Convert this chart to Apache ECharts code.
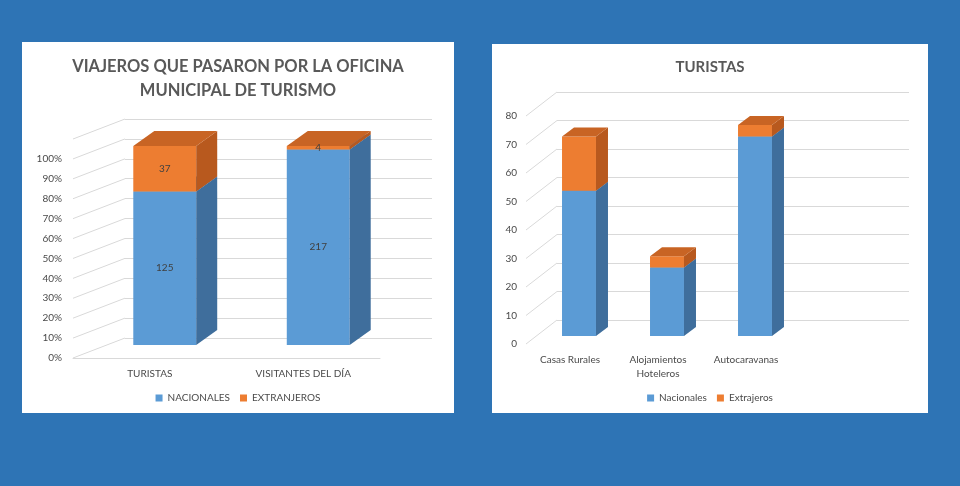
<!DOCTYPE html>
<html>
<head>
<meta charset="utf-8">
<script src="https://cdn.jsdelivr.net/npm/echarts@6/dist/echarts.min.js"></script>
<style>
  html, body { margin: 0; padding: 0; width: 960px; height: 486px; overflow: hidden; background: #2E74B5; }
  .panel { position: absolute; background: #fff; }
  #left { left: 22px; top: 42px; width: 432px; height: 371px; }
  #right { left: 492px; top: 44px; width: 436px; height: 369px; }
</style>
</head>
<body>
<div id="left" class="panel"></div>
<div id="right" class="panel"></div>
<script>
// viajeros que pasaron por la oficina (recuentos, se dibujan como 100% apilado)
const viajerosCategorias = ['TURISTAS', 'VISITANTES DEL DÍA'];
const viajerosNacionales = [125, 217];
const viajerosExtranjeros = [37, 4];
const viajerosTicks = [0, 10, 20, 30, 40, 50, 60, 70, 80, 90, 100, 110];

// turistas por tipo de alojamiento
const turistasCategorias = ['Casas Rurales', 'Alojamientos\nHoteleros', 'Autocaravanas', ''];
const turistasNacionales = [51, 24, 70];
const turistasExtrajeros = [19, 4, 4];
const turistasTicks = [0, 10, 20, 30, 40, 50, 60, 70, 80];

const FONT = 'Lato, "Open Sans", sans-serif';
const GRID_COLOR = '#D9D9D9';
const TEXT_COLOR = '#4A4A4A';
const TITLE_COLOR = '#595959';

const BLUE = { front: '#5B9BD5', side: '#3F6E9C', top: '#4A82B8' };
const ORANGE = { front: '#ED7D31', side: '#B8591E', top: '#C86424' };

// dibuja un bloque 3D (cara frontal, lateral y superior) a partir de las coordenadas del eje
function barRenderer(geo, colors, showLabel) {
    return function (params, api) {
        const cat = api.value(0);
        const p0 = api.coord([cat, api.value(1)]);
        const p1 = api.coord([cat, api.value(2)]);
        const w = api.size([1, 0])[0] * geo.barRatio;
        const x0 = p0[0] + geo.bdx - w / 2;
        const x1 = x0 + w;
        const yb = p0[1] + geo.bdy;
        const yt = p1[1] + geo.bdy;
        const dx = geo.ddx, dy = geo.ddy;
        const children = [
            { type: 'polygon', shape: { points: [[x0, yb], [x1, yb], [x1, yt], [x0, yt]] }, style: { fill: colors.front } },
            { type: 'polygon', shape: { points: [[x1, yb], [x1 + dx, yb + dy], [x1 + dx, yt + dy], [x1, yt]] }, style: { fill: colors.side } },
            { type: 'polygon', shape: { points: [[x0, yt], [x1, yt], [x1 + dx, yt + dy], [x0 + dx, yt + dy]] }, style: { fill: colors.top } },
        ];
        if (showLabel) {
            children.push({
                type: 'text',
                style: {
                    text: String(api.value(3)), x: (x0 + x1) / 2, y: (yb + yt) / 2,
                    align: 'center', verticalAlign: 'middle',
                    font: '10px ' + FONT, fill: '#404040',
                },
            });
        }
        return { type: 'group', children };
    };
}

// líneas de la pared lateral (del eje frontal al fondo)
function wallRenderer(geo) {
    return function (params, api) {
        const y = api.coord([0, api.value(1)])[1];
        const x = params.coordSys.x;
        return {
            type: 'line',
            shape: { x1: x, y1: y, x2: x + geo.wdx, y2: y + geo.wdy },
            style: { stroke: GRID_COLOR, lineWidth: 1 },
        };
    };
}

function stackData(lower, upper, total) {
    const base = [], top = [];
    lower.forEach((v, i) => {
        const a = total ? v / total[i] * 100 : v;
        const b = total ? (v + upper[i]) / total[i] * 100 : v + upper[i];
        base.push([i, 0, a, v]);
        top.push([i, a, b, upper[i]]);
    });
    return { base, top };
}

function buildOption(cfg) {
    const g = cfg.geo;
    const stacked = stackData(cfg.lower, cfg.upper, cfg.percent ? cfg.lower.map((v, i) => v + cfg.upper[i]) : null);
    const labelStyle = { fontFamily: FONT, fontSize: 10, color: TEXT_COLOR };
    return {
        animation: false,
        title: {
            text: cfg.title, left: 'center', top: cfg.titleTop,
            textStyle: { fontFamily: FONT, fontSize: cfg.titleSize, fontWeight: 'bold', color: TITLE_COLOR, lineHeight: 24 },
        },
        legend: {
            data: cfg.names, left: 'center', top: cfg.legendTop,
            icon: 'rect', itemWidth: 7, itemHeight: 7, itemGap: 10,
            textStyle: { fontFamily: FONT, fontSize: 10, color: TEXT_COLOR },
        },
        grid: [
            { left: g.left, top: g.top, width: g.width, height: g.height },
            { left: g.left + g.wdx, top: g.top + g.wdy, width: g.width, height: g.height },
        ],
        xAxis: [
            {
                type: 'category', gridIndex: 0, data: cfg.categories,
                axisTick: { show: false },
                axisLine: { show: cfg.floorLine, lineStyle: { color: GRID_COLOR } },
                axisLabel: Object.assign({ margin: cfg.xMargin, interval: 0, lineHeight: 14 }, labelStyle),
            },
            { type: 'category', gridIndex: 1, data: cfg.categories, show: false },
        ],
        yAxis: [
            {
                type: 'value', gridIndex: 0, min: 0, max: cfg.max, interval: 10,
                splitLine: { show: false }, axisLine: { show: false }, axisTick: { show: false },
                axisLabel: Object.assign({ margin: cfg.yMargin, formatter: cfg.yFormatter }, labelStyle),
            },
            {
                type: 'value', gridIndex: 1, min: 0, max: cfg.max, interval: 10,
                axisLabel: { show: false }, axisLine: { show: false }, axisTick: { show: false },
                splitLine: { lineStyle: { color: GRID_COLOR, width: 1 } },
            },
        ],
        series: [
            {
                type: 'custom', xAxisIndex: 0, yAxisIndex: 0, silent: true,
                data: cfg.ticks.map(t => [0, t]), encode: { x: 0, y: 1 },
                renderItem: wallRenderer(g),
            },
            {
                name: cfg.names[0], type: 'custom', xAxisIndex: 0, yAxisIndex: 0,
                itemStyle: { color: BLUE.front },
                data: stacked.base, encode: { x: 0, y: [1, 2] },
                renderItem: barRenderer(g, BLUE, cfg.labels),
            },
            {
                name: cfg.names[1], type: 'custom', xAxisIndex: 0, yAxisIndex: 0,
                itemStyle: { color: ORANGE.front },
                data: stacked.top, encode: { x: 0, y: [1, 2] },
                renderItem: barRenderer(g, ORANGE, cfg.labels),
            },
        ],
    };
}

const leftChart = echarts.init(document.getElementById('left'));
leftChart.setOption(buildOption({
    title: 'VIAJEROS QUE PASARON POR LA OFICINA\nMUNICIPAL DE TURISMO',
    titleTop: 8, titleSize: 16.5,
    names: ['NACIONALES', 'EXTRANJEROS'],
    legendTop: 346,
    categories: viajerosCategorias,
    lower: viajerosNacionales, upper: viajerosExtranjeros, percent: true,
    ticks: viajerosTicks, max: 110,
    yFormatter: v => (v > 100 ? '' : v + '%'),
    floorLine: true, labels: true, xMargin: 9, yMargin: 11,
    geo: { left: 51, top: 97, width: 307, height: 219, wdx: 52, wdy: -20, bdx: 15, bdy: -13, ddx: 21, ddy: -15, barRatio: 0.41 },
}));

const rightChart = echarts.init(document.getElementById('right'));
rightChart.setOption(buildOption({
    title: 'TURISTAS',
    titleTop: 6, titleSize: 15,
    names: ['Nacionales', 'Extrajeros'],
    legendTop: 344,
    categories: turistasCategorias,
    lower: turistasNacionales, upper: turistasExtrajeros, percent: false,
    ticks: turistasTicks, max: 80,
    yFormatter: v => String(v),
    floorLine: false, labels: false, xMargin: 9, yMargin: 9,
    geo: { left: 34, top: 72, width: 352, height: 228, wdx: 31, wdy: -24, bdx: 9, bdy: -8, ddx: 12, ddy: -9, barRatio: 0.386 },
}));
</script>
</body>
</html>
